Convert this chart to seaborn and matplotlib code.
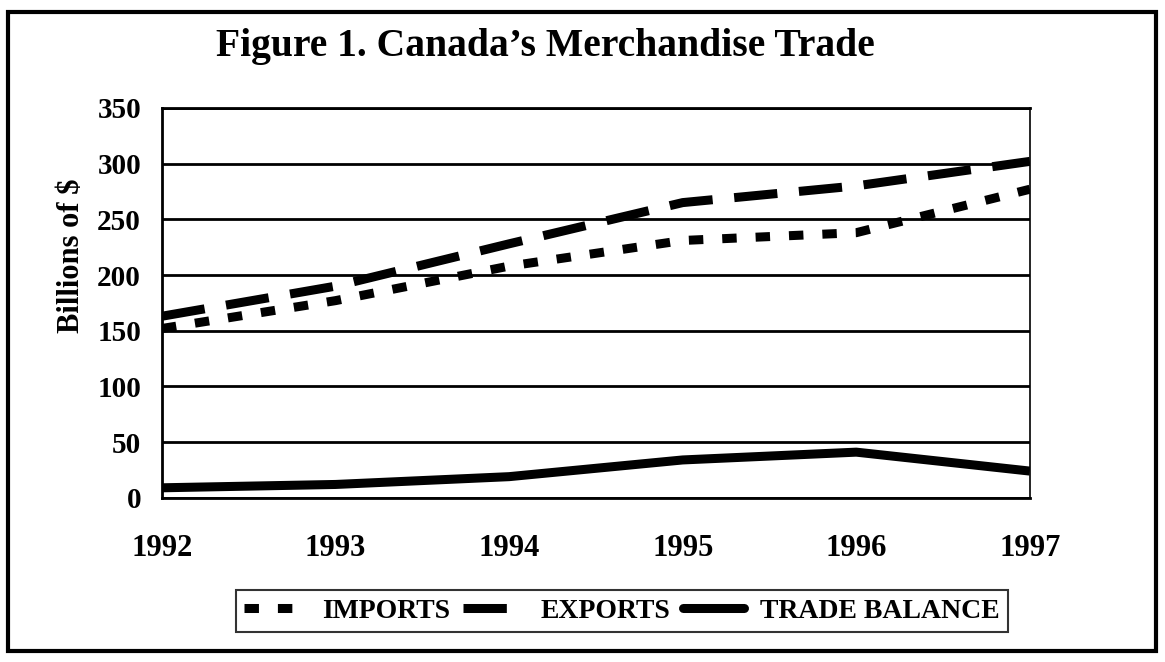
import pandas as pd
import matplotlib.pyplot as plt
import seaborn as sns
from matplotlib.lines import Line2D

# Dati (miliardi di $)
years = [1992, 1993, 1994, 1995, 1996, 1997]
imports = [152, 177, 208, 231, 238, 277]
exports = [163, 190, 228, 265, 280, 302]
trade_balance = [9, 12, 19, 34, 41, 24]
series_names = ["IMPORTS", "EXPORTS", "TRADE BALANCE"]

df = pd.DataFrame({
    "Year": years * 3,
    "Value": imports + exports + trade_balance,
    "Series": [s for s in series_names for _ in years],
})

sns.set_theme(style="white")
plt.rcParams['font.family'] = ['Liberation Serif', 'DejaVu Serif']
plt.rcParams['font.weight'] = 'bold'
plt.rcParams['text.color'] = 'black'
plt.rcParams['axes.labelcolor'] = 'black'

LW = 6.5
fig = plt.figure(figsize=(11.65, 6.62), dpi=100)
ax = fig.add_axes([0.139, 0.248, 0.745, 0.589])

dash_styles = {
    "IMPORTS": (1.6, 2.1),
    "EXPORTS": (4.8, 2.4),
    "TRADE BALANCE": "",
}
sns.lineplot(
    data=df, x="Year", y="Value", style="Series",
    dashes=dash_styles, color="black", linewidth=LW,
    legend=False, ax=ax,
)
for ln in ax.lines:
    ln.set_dash_capstyle('butt')
    ln.set_solid_capstyle('butt')

ax.set_xlim(1992, 1997)
ax.set_ylim(0, 350)
ax.set_xticks(years)
ax.set_yticks(range(0, 351, 50))
ax.set_xticklabels([str(y) for y in years], fontsize=22, fontweight='bold')
ax.set_yticklabels([str(v) for v in range(0, 351, 50)], fontsize=21, fontweight='bold')
ax.yaxis.grid(True, color='black', linewidth=2)
ax.xaxis.grid(False)
ax.tick_params(axis='x', direction='inout', length=16, width=1.5, pad=18, colors='black')
ax.tick_params(axis='y', direction='out', length=7, width=2, pad=8, colors='black')
ax.set_xlabel("")
ax.set_ylabel("Billions of $", fontsize=22, fontweight='bold')
ax.yaxis.set_label_coords(-0.088, 0.62)

for side in ["left", "bottom", "top"]:
    ax.spines[side].set_color('black')
    ax.spines[side].set_linewidth(2)
ax.spines["right"].set_color('black')
ax.spines["right"].set_linewidth(1.2)

fig.text(0.468, 0.93, "Figure 1. Canada\u2019s Merchandise Trade",
         ha='center', va='center', fontsize=28.5, fontweight='bold')

# Legenda personalizzata
handles = [
    Line2D([0], [0], color='black', linewidth=LW, linestyle=(0, dash_styles["IMPORTS"]), dash_capstyle='butt'),
    Line2D([0], [0], color='black', linewidth=LW, linestyle=(0, dash_styles["EXPORTS"])),
    Line2D([0], [0], color='black', linewidth=LW, linestyle='-'),
]
leg = fig.legend(
    handles, series_names, loc='center', bbox_to_anchor=(0.534, 0.077),
    ncol=3, frameon=True, fancybox=False, fontsize=20,
    handlelength=2.2, handletextpad=0.6, columnspacing=0.45,
    borderpad=0.3, borderaxespad=0,
)
leg.get_frame().set_edgecolor('black')
leg.get_frame().set_linewidth(1.5)
for t in leg.get_texts():
    t.set_fontweight('bold')

# Cornice esterna
fig.patches.append(plt.Rectangle((0.007, 0.017), 0.985, 0.965, transform=fig.transFigure,
                                 fill=False, edgecolor='black', linewidth=3))

plt.savefig("out.png", dpi=100)
